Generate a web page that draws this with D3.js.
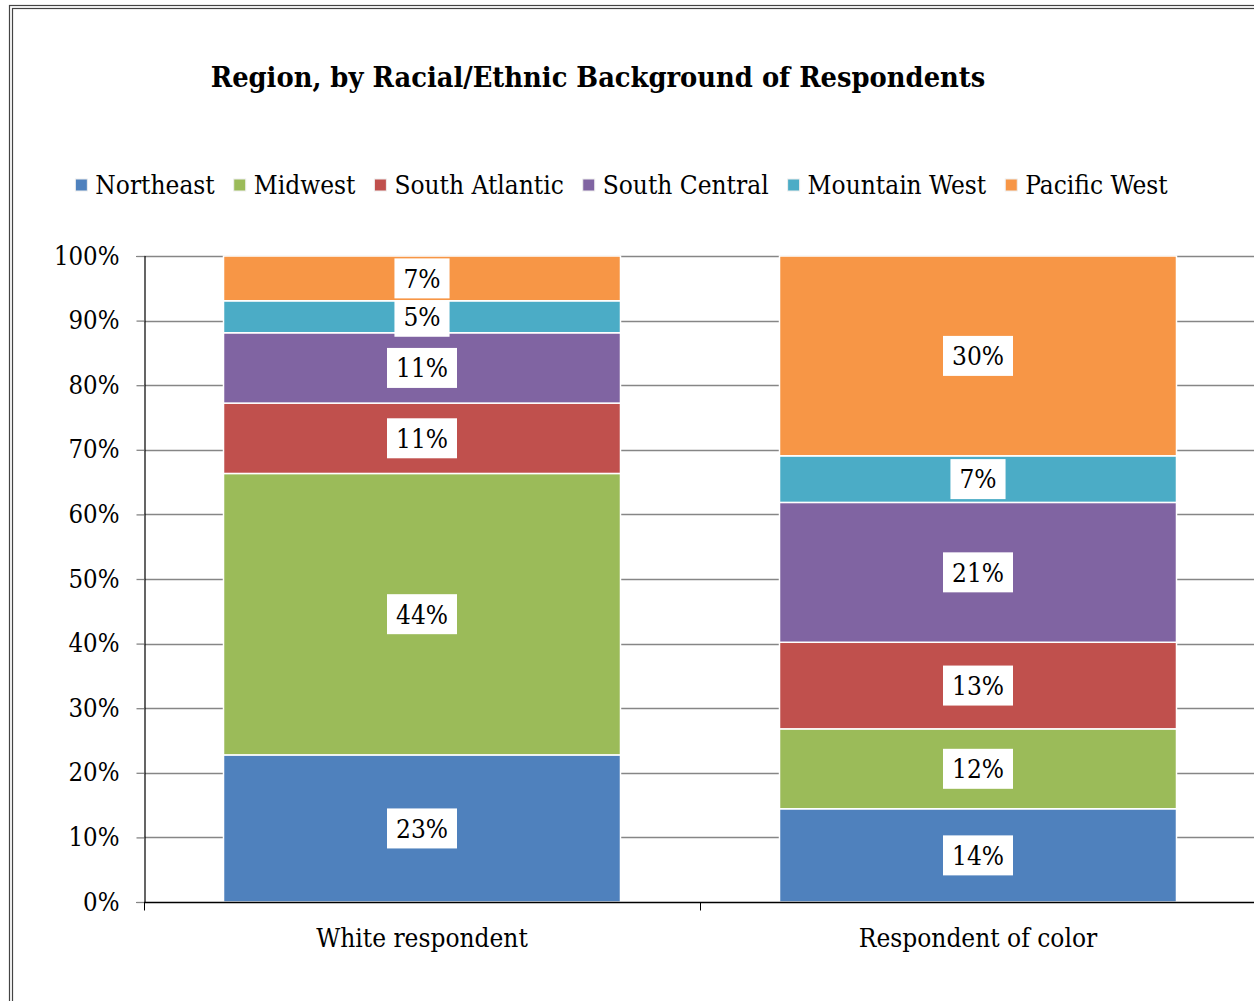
<!DOCTYPE html>
<html>
<head>
<meta charset="utf-8">
<script src="https://cdn.jsdelivr.net/npm/d3@7"></script>
<style>
  body { margin: 0; background: #fff; }
  svg text { font-family: "DejaVu Serif", "Liberation Serif", serif; font-stretch: condensed; fill: #000; }
</style>
</head>
<body>
<svg id="chart" width="1254" height="1001"></svg>
<script>
// categories and series (values are the shares shown in the data labels, in %)
let groups = ['White respondent', 'Respondent of color'];
let regions = ['Northeast', 'Midwest', 'South Atlantic', 'South Central', 'Mountain West', 'Pacific West'];
let colors = ['#4F81BD', '#9BBB59', '#C0504D', '#8064A2', '#4BACC6', '#F79646'];
let whiteShares = [23, 44, 11, 11, 5, 7];
let colorShares = [14, 12, 13, 21, 7, 30];
let yTicks = [0, 0.1, 0.2, 0.3, 0.4, 0.5, 0.6, 0.7, 0.8, 0.9, 1];

let svg = d3.select('#chart');

// outer double frame, cut off at the right and bottom like the original
svg.append('rect').attr('x', 9.5).attr('y', 5.5).attr('width', 1300).attr('height', 1100)
    .style('fill', 'none').style('stroke', '#444').style('stroke-width', 1.2);
svg.append('rect').attr('x', 12.5).attr('y', 8.5).attr('width', 1300).attr('height', 1100)
    .style('fill', 'none').style('stroke', '#444').style('stroke-width', 1.2);

let plotLeft = 144, plotRight = 1256, plotTop = 256, plotBottom = 902;

let xScale = d3.scaleBand()
    .domain(groups)
    .range([plotLeft, plotRight])
    .paddingInner(0.286)
    .paddingOuter(0.143);

let yScale = d3.scaleLinear()
    .domain([0, 1])
    .range([plotBottom, plotTop]);

// title
svg.append('text')
    .attr('x', 598).attr('y', 87)
    .attr('text-anchor', 'middle')
    .style('font-size', '28.7px').style('font-weight', 'bold')
    .text('Region, by Racial/Ethnic Background of Respondents');

// gridlines
svg.append('g')
    .selectAll('line')
    .data(yTicks.slice(1))
    .enter()
    .append('line')
    .attr('x1', plotLeft).attr('x2', 1254)
    .attr('y1', d => Math.round(yScale(d)) + 0.5)
    .attr('y2', d => Math.round(yScale(d)) + 0.5)
    .style('stroke', '#868686').style('stroke-width', 1.3);

// stacked bars
let table = groups.map((g, i) => {
    let row = {group: g};
    let vals = i === 0 ? whiteShares : colorShares;
    regions.forEach((r, j) => row[r] = vals[j]);
    return row;
});
let series = d3.stack().keys(regions).offset(d3.stackOffsetExpand)(table);

let layers = svg.append('g')
    .selectAll('g')
    .data(series)
    .enter()
    .append('g')
    .style('fill', (d, i) => colors[i]);

layers.selectAll('rect')
    .data(d => d)
    .enter()
    .append('rect')
    .attr('x', d => xScale(d.data.group))
    .attr('y', d => yScale(d[1]))
    .attr('width', xScale.bandwidth())
    .attr('height', d => yScale(d[0]) - yScale(d[1]))
    .style('stroke', '#fff').style('stroke-width', 1.5);

// y axis
let yAxis = svg.append('g')
    .attr('transform', `translate(${plotLeft + 0.5},0)`)
    .call(d3.axisLeft(yScale).tickValues(yTicks).tickFormat(d3.format('.0%')).tickSize(8).tickPadding(17));
yAxis.select('.domain').style('stroke', '#000').style('stroke-width', 1.2);
yAxis.selectAll('.tick line').style('stroke', '#868686').style('stroke-width', 1.3);
yAxis.selectAll('.tick text').style('font-size', '25.5px').style('font-family', null);

// x axis
let xAxis = svg.append('g')
    .attr('transform', `translate(0,${plotBottom + 0.5})`)
    .call(d3.axisBottom(xScale).tickSize(0).tickPadding(26));
xAxis.select('.domain').remove();
xAxis.append('line').attr('x1', plotLeft).attr('x2', 1254).style('stroke', '#000').style('stroke-width', 1.3);
xAxis.selectAll('.sep')
    .data([plotLeft, plotLeft + xScale.step(), plotLeft + 2 * xScale.step()])
    .enter()
    .append('line')
    .attr('x1', d => d + 0.5).attr('x2', d => d + 0.5)
    .attr('y1', 0).attr('y2', 8)
    .style('stroke', '#000');
xAxis.selectAll('.tick text').style('font-size', '26px').style('font-family', null);

// data labels with white boxes
let labels = layers.selectAll('.lbl')
    .data(d => d)
    .enter()
    .append('g')
    .attr('class', 'lbl')
    .attr('transform', d => `translate(${xScale(d.data.group) + xScale.bandwidth() / 2},${(yScale(d[0]) + yScale(d[1])) / 2})`);

labels.append('text')
    .attr('text-anchor', 'middle')
    .attr('dy', '0.36em')
    .style('font-size', '26px')
    .style('fill', '#000')
    .text(function (d) {
        let layer = d3.select(this.parentNode.parentNode).datum();
        return d.data[layer.key] + '%';
    });

labels.each(function () {
    let g = d3.select(this);
    let w = g.select('text').node().getComputedTextLength();
    g.insert('rect', 'text')
        .attr('x', -w / 2 - 9).attr('y', -20)
        .attr('width', w + 18).attr('height', 40)
        .style('fill', '#fff');
});

// legend
let legend = svg.append('g').attr('transform', 'translate(0,185)');
let items = legend.selectAll('g')
    .data(regions)
    .enter()
    .append('g');
items.append('rect')
    .attr('x', 0).attr('y', -6)
    .attr('width', 12).attr('height', 12)
    .style('fill', (d, i) => colors[i])
    .style('stroke', '#eee');
items.append('text')
    .attr('x', 20).attr('dy', '0.36em')
    .style('font-size', '26px')
    .text(d => d);

let pos = 0;
let offsets = [];
items.each(function () {
    offsets.push(pos);
    pos += 20 + d3.select(this).select('text').node().getComputedTextLength() + 19;
});
let legendStart = 621.5 - (pos - 19) / 2;
items.attr('transform', (d, i) => `translate(${legendStart + offsets[i]},0)`);
</script>
</body>
</html>
